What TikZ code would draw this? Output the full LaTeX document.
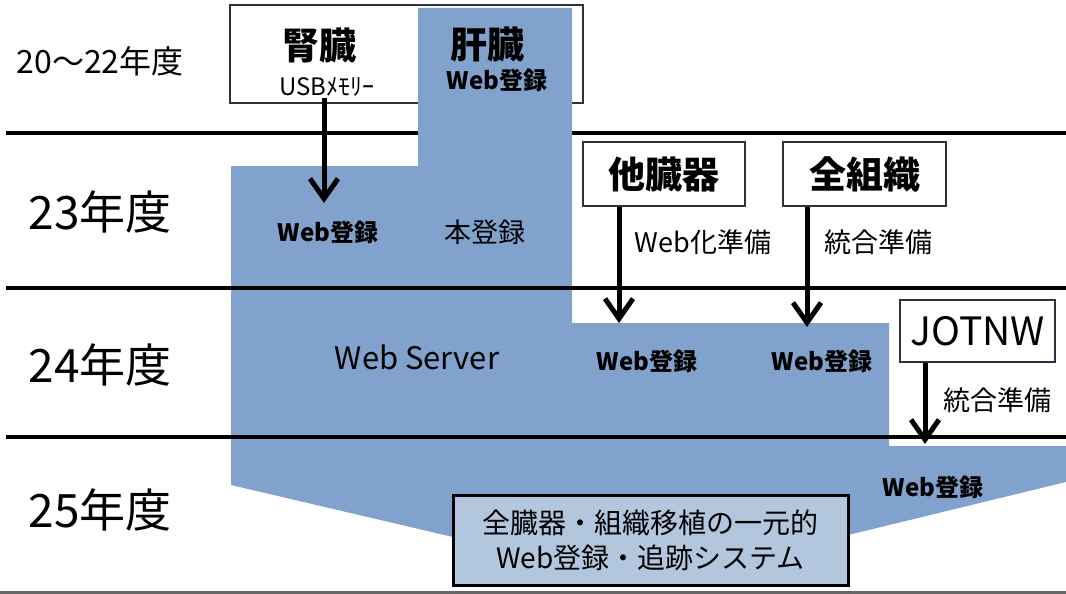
\documentclass[tikz,border=0pt]{standalone}
\usepackage{fontspec}
\setmainfont{Noto Sans CJK JP}
\usetikzlibrary{arrows.meta}
\definecolor{regblue}{RGB}{128,162,204}
\definecolor{sysblue}{RGB}{178,199,222}
\definecolor{boxline}{RGB}{45,50,62}
\begin{document}
\begin{tikzpicture}[x=1pt,y=-1pt,
  organ/.style={draw=boxline,line width=1.6pt,fill=white,minimum height=64pt,inner sep=0pt},
  year/.style={font=\fontsize{46}{46}\selectfont},
  big/.style={font=\fontsize{37}{37}\selectfont\bfseries},
  reg/.style={font=\fontsize{24}{24}\selectfont\bfseries},
  note/.style={font=\fontsize{27}{27}\selectfont},
  flow/.style={line width=5pt,-{Straight Barb[length=20pt,width=28pt]}},
  yearline/.style={line width=4pt}]
\useasboundingbox (0,0) rectangle (1066,594);
% old box (kidney / liver)
\node [draw=boxline,line width=1.6pt,fill=white,minimum width=353pt,minimum height=98pt] (old) at (406.5,54) {};
\draw [yearline] (6,133) -- (1066,133);
% registration area
\fill [regblue] (231,166) -- (418,166) -- (418,8) -- (572,8) -- (572,323) -- (889,323)
  -- (889,446) -- (1066,446) -- (1066,482) -- (848,535) -- (453,537) -- (231,485) -- cycle;
\draw [yearline] (6,288) -- (1066,288);
\draw [yearline] (6,437) -- (1066,437);
\draw [line width=3pt,black!60] (0,592.5) -- (1066,592.5);
% years
\node [font=\fontsize{32}{32}\selectfont] (y20) at (100,61) {20〜22年度};
\node [year] (y23) at (100,212) {23年度};
\node [year] (y24) at (100,365) {24年度};
\node [year] (y25) at (100,510) {25年度};
% 20-22
\node [big] (kidney) at (319,45) {腎臓};
\node [font=\fontsize{24}{24}\selectfont,inner sep=1pt] (usb) at (327,87) {USBﾒﾓﾘｰ};
\node [big] (liver) at (487,44) {肝臓};
\node [reg] (liverweb) at (497,80) {Web登録};
% 23
\node [reg] (kidweb) at (328,232) {Web登録};
\node [note] (honreg) at (485,232) {本登録};
\node [organ,big,minimum width=162pt] (other) at (664,174) {他臓器};
\node [organ,big,minimum width=163pt] (tissue) at (864.5,174) {全組織};
\node [note] (webprep) at (703,242) {Web化準備};
\node [note] (tissprep) at (878,242) {統合準備};
% 24
\node [font=\fontsize{31}{31}\selectfont] (server) at (417,357) {Web Server};
\node [reg] (otherweb) at (647,361) {Web登録};
\node [reg] (tissweb) at (822,361) {Web登録};
\node [organ,minimum width=155pt,minimum height=62pt,font=\fontsize{39}{39}\selectfont] (jotnw) at (977.5,331) {JOTNW};
\node [note] (jotprep) at (997,400) {統合準備};
% 25
\node [reg] (jotweb) at (933,487) {Web登録};
\node [draw=black,line width=3pt,fill=sysblue,minimum width=395pt,minimum height=90pt,align=center,
  font=\fontsize{28}{35}\selectfont] (system) at (650.5,540) {全臓器・組織移植の一元的\\Web登録・追跡システム};
% arrows
\coordinate (kidtip) at (324,203);
\coordinate (othertip) at (619,323);
\coordinate (tisstip) at (807,327);
\coordinate (jottip) at (925,444);
\draw [flow] (usb.south -| kidtip) -- (kidtip);
\draw [flow] (other.south -| othertip) -- (othertip);
\draw [flow] (tissue.south -| tisstip) -- (tisstip);
\draw [flow] (jotnw.south -| jottip) -- (jottip);
\end{tikzpicture}
\end{document}
